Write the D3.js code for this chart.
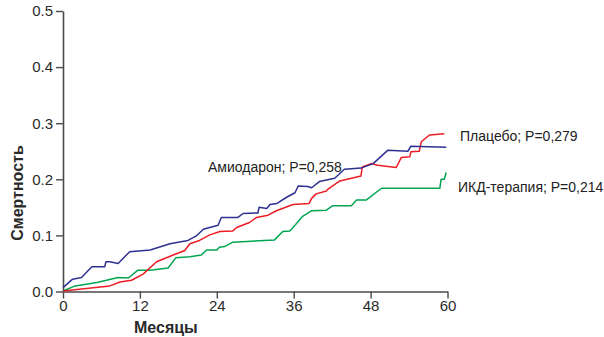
<!DOCTYPE html>
<html><head><meta charset="utf-8">
<script src="https://cdn.jsdelivr.net/npm/d3@7"></script>
<style>body{margin:0;background:#fff}svg{display:block}</style>
</head><body>
<svg id="c" width="604" height="337"></svg>
<script>
const xTicks = [0, 12, 24, 36, 48, 60];
const yTicks = [0.0, 0.1, 0.2, 0.3, 0.4, 0.5];

const amioMonths = [0,1.5,2.9,4.5,6.5,6.7,7.3,8.6,10.4,13.6,16.7,19.5,20.8,21.9,22.9,24.2,24.7,27.3,28.1,30.4,30.6,31.8,32.3,33.4,34.9,36.2,36.7,38.2,38.8,40.0,42.4,43.9,46.5,48.4,50.7,53.8,54.3,59.8];
const amioVals   = [0.007,0.022,0.025,0.044,0.044,0.053,0.053,0.050,0.071,0.074,0.085,0.091,0.099,0.111,0.114,0.118,0.132,0.132,0.139,0.140,0.150,0.148,0.155,0.157,0.168,0.176,0.188,0.187,0.185,0.196,0.202,0.218,0.220,0.228,0.252,0.250,0.259,0.257];

const placMonths = [0,7.3,8.9,10.7,12.5,14.6,17.2,19.0,19.8,21.3,22.9,24.5,26.5,27.1,29.1,30.2,32.0,33.3,35.9,38.4,38.8,39.5,41.1,41.3,43.2,46.5,46.7,48.1,49.1,52.0,52.8,54.1,54.3,55.6,55.9,57.2,59.5];
const placVals   = [0.001,0.010,0.017,0.020,0.031,0.053,0.065,0.073,0.085,0.091,0.101,0.107,0.108,0.114,0.123,0.132,0.136,0.144,0.155,0.157,0.166,0.174,0.179,0.182,0.197,0.206,0.222,0.228,0.225,0.221,0.239,0.240,0.249,0.250,0.267,0.279,0.281];

const icdMonths = [0,1.9,5.3,8.6,10.2,11.7,13.6,16.4,17.6,19.8,21.6,22.4,24.0,24.4,25.2,26.5,33.0,34.3,35.4,36.2,37.4,38.8,41.1,42.1,45.0,45.8,47.3,49.7,58.8,59.0,59.5,59.8];
const icdVals   = [0.001,0.010,0.016,0.025,0.024,0.038,0.038,0.042,0.060,0.062,0.065,0.074,0.074,0.079,0.080,0.088,0.092,0.107,0.108,0.118,0.134,0.144,0.145,0.153,0.153,0.163,0.163,0.184,0.184,0.200,0.200,0.212];

const seriesNames = ["Амиодарон; P=0,258", "Плацебо; P=0,279", "ИКД-терапия; P=0,214"];
const seriesColors = ["#2e3192", "#ed1c24", "#00a651"];

const svg = d3.select("#c");
const x = d3.scaleLinear().domain([0, 60]).range([63, 447.5]);
const y = d3.scaleLinear().domain([0, 0.5]).range([291.5, 11]);

const axisColor = "#4a4a4a";
const font = "Liberation Sans, Arial, Helvetica, sans-serif";

// axes
const xAxis = svg.append("g").attr("transform", `translate(0,${y(0)})`)
  .call(d3.axisBottom(x).tickValues(xTicks).tickSize(7).tickPadding(2).tickSizeOuter(0).tickFormat(d3.format("d")));
const yAxis = svg.append("g").attr("transform", `translate(${x(0)},0)`)
  .call(d3.axisLeft(y).tickValues(yTicks).tickSize(7).tickPadding(3).tickSizeOuter(0).tickFormat(d3.format(".1f")));
[xAxis, yAxis].forEach(g => {
  g.select(".domain").attr("stroke", axisColor).attr("stroke-width", 1.6);
  g.selectAll(".tick line").attr("stroke", axisColor).attr("stroke-width", 1.4);
  g.selectAll(".tick text").attr("fill", "#2a2a2a").style("font-family", font).style("font-size", "15px");
});

// series
const data = [
  d3.zip(amioMonths, amioVals),
  d3.zip(placMonths, placVals),
  d3.zip(icdMonths, icdVals)
];
const line = d3.line().x(d => x(d[0])).y(d => y(d[1]));
// draw order: green, red, blue
[2, 1, 0].forEach(i => {
  svg.append("path").datum(data[i]).attr("d", line)
    .attr("fill", "none").attr("stroke", seriesColors[i]).attr("stroke-width", 1.5)
    .attr("stroke-linejoin", "round");
});

// labels
const labelPos = [[208, 172], [460, 141], [458, 192]];
seriesNames.forEach((n, i) => {
  svg.append("text").attr("x", labelPos[i][0]).attr("y", labelPos[i][1])
    .attr("fill", "#222").style("font-family", font).style("font-size", "14px").text(n);
});

// axis titles
svg.append("text").attr("x", 134).attr("y", 333).attr("fill", "#2a2a2a")
  .style("font-family", font).style("font-size", "16px").style("font-weight", "bold").text("Месяцы");
svg.append("text").attr("transform", "translate(23,193) rotate(-90)").attr("text-anchor", "middle")
  .attr("fill", "#2a2a2a").style("font-family", font).style("font-size", "16px").style("font-weight", "bold").text("Смертность");
</script>
</body></html>
